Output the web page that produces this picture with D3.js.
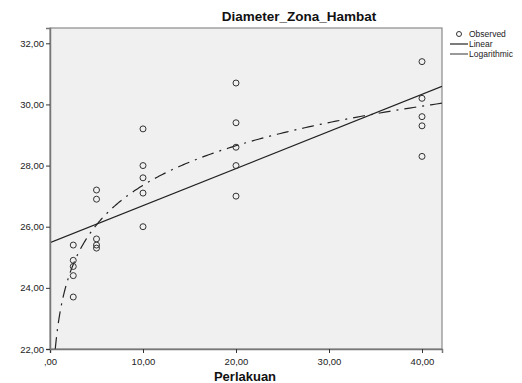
<!DOCTYPE html>
<html>
<head>
<meta charset="utf-8">
<script src="https://cdn.jsdelivr.net/npm/d3@7"></script>
<style>
  body { margin: 0; background: #fff; }
  svg { display: block; font-family: Arial, "Liberation Sans", sans-serif; }
</style>
</head>
<body>
<div id="chart"></div>
<script>
// Perlakuan groups and observed Diameter_Zona_Hambat values (5 per group)
const perlakuan = [2.5, 5, 10, 20, 40];
const observed = [
  [25.4, 24.9, 24.7, 24.4, 23.7],
  [27.2, 26.9, 25.6, 25.4, 25.3],
  [29.2, 28.0, 27.6, 27.1, 26.0],
  [30.7, 29.4, 28.6, 28.0, 27.0],
  [31.4, 30.2, 29.6, 29.3, 28.3]
];
const xTicks = [0, 10, 20, 30, 40];
const yTicks = [22, 24, 26, 28, 30, 32];
const legendItems = ["Observed", "Linear", "Logarithmic"];

const width = 522, height = 383;
const margin = { top: 28, right: 80, bottom: 34, left: 50 };

const svg = d3.select("#chart").append("svg")
  .attr("width", width)
  .attr("height", height);

const x = d3.scaleLinear().domain([0, 42.15]).range([margin.left, width - margin.right]);
const y = d3.scaleLinear().domain([22, 32.5]).range([height - margin.bottom, margin.top]);

const fmt = v => v === 0 ? ",00" : d3.format(".2f")(v).replace(".", ",");

// flatten points
const points = [];
perlakuan.forEach((p, i) => observed[i].forEach(v => points.push({ x: p, y: v })));

// least squares fits: linear and logarithmic
function fit(xs, ys) {
  const mx = d3.mean(xs), my = d3.mean(ys);
  const b = d3.sum(xs, (v, i) => (v - mx) * (ys[i] - my)) / d3.sum(xs, v => (v - mx) * (v - mx));
  return { a: my - b * mx, b: b };
}
const lin = fit(points.map(d => d.x), points.map(d => d.y));
const lg = fit(points.map(d => Math.log(d.x)), points.map(d => d.y));

// plot background
svg.append("rect")
  .attr("x", x.range()[0]).attr("y", y.range()[1])
  .attr("width", x.range()[1] - x.range()[0])
  .attr("height", y.range()[0] - y.range()[1])
  .attr("fill", "#f0f0f0")
  .attr("stroke", "#8a8a8a")
  .attr("stroke-width", 1.2);

const plot = svg.append("g");
plot.append("clipPath").attr("id", "clip")
  .append("rect")
  .attr("x", x.range()[0]).attr("y", y.range()[1])
  .attr("width", x.range()[1] - x.range()[0])
  .attr("height", y.range()[0] - y.range()[1]);

// linear fit line
const x0 = x.domain()[0], x1 = x.domain()[1];
plot.append("line")
  .attr("clip-path", "url(#clip)")
  .attr("x1", x(x0)).attr("y1", y(lin.a + lin.b * x0))
  .attr("x2", x(x1)).attr("y2", y(lin.a + lin.b * x1))
  .attr("stroke", "#222")
  .attr("stroke-width", 1.2);

// logarithmic fit curve
const xStart = Math.exp((y.domain()[0] - lg.a) / lg.b);
const logPts = d3.range(0, 301).map(i => {
  const xv = xStart * Math.pow(x1 / xStart, i / 300);
  return [xv, lg.a + lg.b * Math.log(xv)];
});
plot.append("path")
  .attr("clip-path", "url(#clip)")
  .attr("d", d3.line().x(d => x(d[0])).y(d => y(d[1]))(logPts))
  .attr("fill", "none")
  .attr("stroke", "#222")
  .attr("stroke-width", 1.2)
  .attr("stroke-dasharray", "12,6,2,6");

// observed points
plot.selectAll("circle.obs")
  .data(points)
  .enter().append("circle")
  .attr("class", "obs")
  .attr("cx", d => x(d.x))
  .attr("cy", d => y(d.y))
  .attr("r", 3)
  .attr("fill", "none")
  .attr("stroke", "#333")
  .attr("stroke-width", 1);

// axes
const xAxis = d3.axisBottom(x).tickValues(xTicks).tickSize(4).tickFormat(fmt);
const yAxis = d3.axisLeft(y).tickValues(yTicks).tickSize(4).tickFormat(fmt);

const gx = svg.append("g")
  .attr("transform", "translate(0," + y.range()[0] + ")")
  .call(xAxis);
const gy = svg.append("g")
  .attr("transform", "translate(" + x.range()[0] + ",0)")
  .call(yAxis);

[gx, gy].forEach(g => {
  g.select(".domain").attr("stroke", "#777").attr("stroke-width", 1.5);
  g.selectAll(".tick line").attr("stroke", "#333");
  g.selectAll(".tick text").attr("fill", "#222").style("font-size", "9.5px");
});
gx.selectAll(".tick text").attr("dy", "0.9em");
gy.selectAll(".tick text").attr("x", -6);

// title
svg.append("text")
  .attr("x", 299).attr("y", 21)
  .attr("text-anchor", "middle")
  .style("font-size", "13.5px")
  .style("font-weight", "bold")
  .attr("fill", "#111")
  .text("Diameter_Zona_Hambat");

// x label
svg.append("text")
  .attr("x", 245).attr("y", 381)
  .attr("text-anchor", "middle")
  .style("font-size", "13px")
  .style("font-weight", "bold")
  .attr("fill", "#111")
  .text("Perlakuan");

// legend
const legend = svg.append("g").attr("transform", "translate(450,0)");
const ly = [34, 44, 54];
legendItems.forEach((name, i) => {
  if (i === 0) {
    legend.append("circle")
      .attr("cx", 9).attr("cy", ly[i]).attr("r", 2.5)
      .attr("fill", "none").attr("stroke", "#333");
  } else {
    legend.append("line")
      .attr("x1", 0).attr("x2", 18)
      .attr("y1", ly[i]).attr("y2", ly[i])
      .attr("stroke", i === 1 ? "#222" : "#555")
      .attr("stroke-width", 1.2);
  }
  legend.append("text")
    .attr("x", 19).attr("y", ly[i])
    .attr("dy", "0.35em")
    .style("font-size", "8.5px")
    .attr("fill", "#222")
    .text(name);
});
</script>
</body>
</html>
